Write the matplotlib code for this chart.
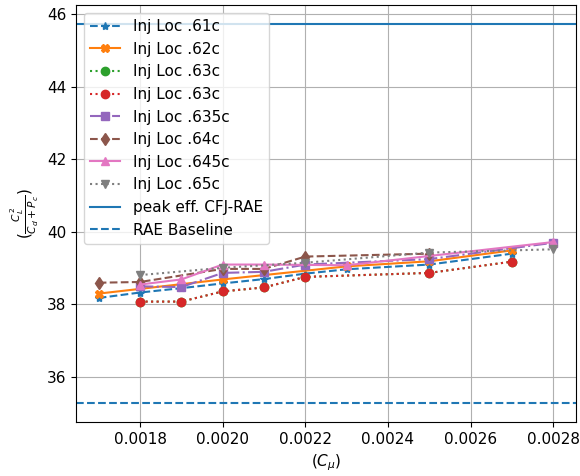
import matplotlib
matplotlib.use('Agg')
import matplotlib.pyplot as plt

plt.rcParams['font.size'] = 11

# data
x_61 = [0.0017, 0.0018, 0.0019, 0.0020, 0.0021, 0.0022, 0.0023, 0.0025, 0.0027]
y_61 = [38.18, 38.33, 38.45, 38.58, 38.70, 38.85, 38.97, 39.10, 39.40]
x_62 = [0.0017, 0.0020, 0.0023, 0.0025, 0.0027]
y_62 = [38.30, 38.69, 39.05, 39.19, 39.49]
x_63 = [0.0018, 0.0019, 0.0020, 0.0021, 0.0022, 0.0025, 0.0027]
y_63 = [38.08, 38.08, 38.36, 38.47, 38.76, 38.87, 39.18]
x_635 = [0.0018, 0.0019, 0.0020, 0.0021, 0.0022, 0.0025, 0.0028]
y_635 = [38.50, 38.48, 38.87, 38.90, 39.10, 39.25, 39.70]
x_64 = [0.0017, 0.0018, 0.0020, 0.0021, 0.0022, 0.0025]
y_64 = [38.60, 38.62, 38.98, 38.98, 39.32, 39.40]
x_645 = [0.0018, 0.0019, 0.0020, 0.0021, 0.0023, 0.0028]
y_645 = [38.55, 38.69, 39.10, 39.10, 39.08, 39.72]
x_65 = [0.0018, 0.0020, 0.0022, 0.0025, 0.0028]
y_65 = [38.81, 39.01, 39.15, 39.43, 39.52]
peak_cfj = 45.72
rae_base = 35.28

fig = plt.figure(figsize=(5.8, 4.76), dpi=100)
ax = fig.add_axes([0.131, 0.113, 0.862, 0.876])

ax.plot(x_61, y_61, '--', marker='*', color='C0', label='Inj Loc .61c')
ax.plot(x_62, y_62, '-', marker='X', color='C1', label='Inj Loc .62c')
ax.plot(x_63, y_63, ':', marker='o', color='C2', label='Inj Loc .63c')
ax.plot(x_63, y_63, ':', marker='o', color='C3', label='Inj Loc .63c')
ax.plot(x_635, y_635, '-.', marker='s', color='C4', label='Inj Loc .635c')
ax.plot(x_64, y_64, '--', marker='d', color='C5', label='Inj Loc .64c')
ax.plot(x_645, y_645, '-', marker='^', color='C6', label='Inj Loc .645c')
ax.plot(x_65, y_65, ':', marker='v', color='C7', label='Inj Loc .65c')
ax.axhline(peak_cfj, color='C0', linestyle='-', label='peak eff. CFJ-RAE')
ax.axhline(rae_base, color='C0', linestyle='--', label='RAE Baseline')

ax.grid(True)
ax.set_xlabel(r'$(C_\mu)$')
ax.set_ylabel(r'$(\frac{C_L^2}{C_d+P_c})$')
ax.legend(loc='upper left')

fig.savefig('out.png', dpi=100)
